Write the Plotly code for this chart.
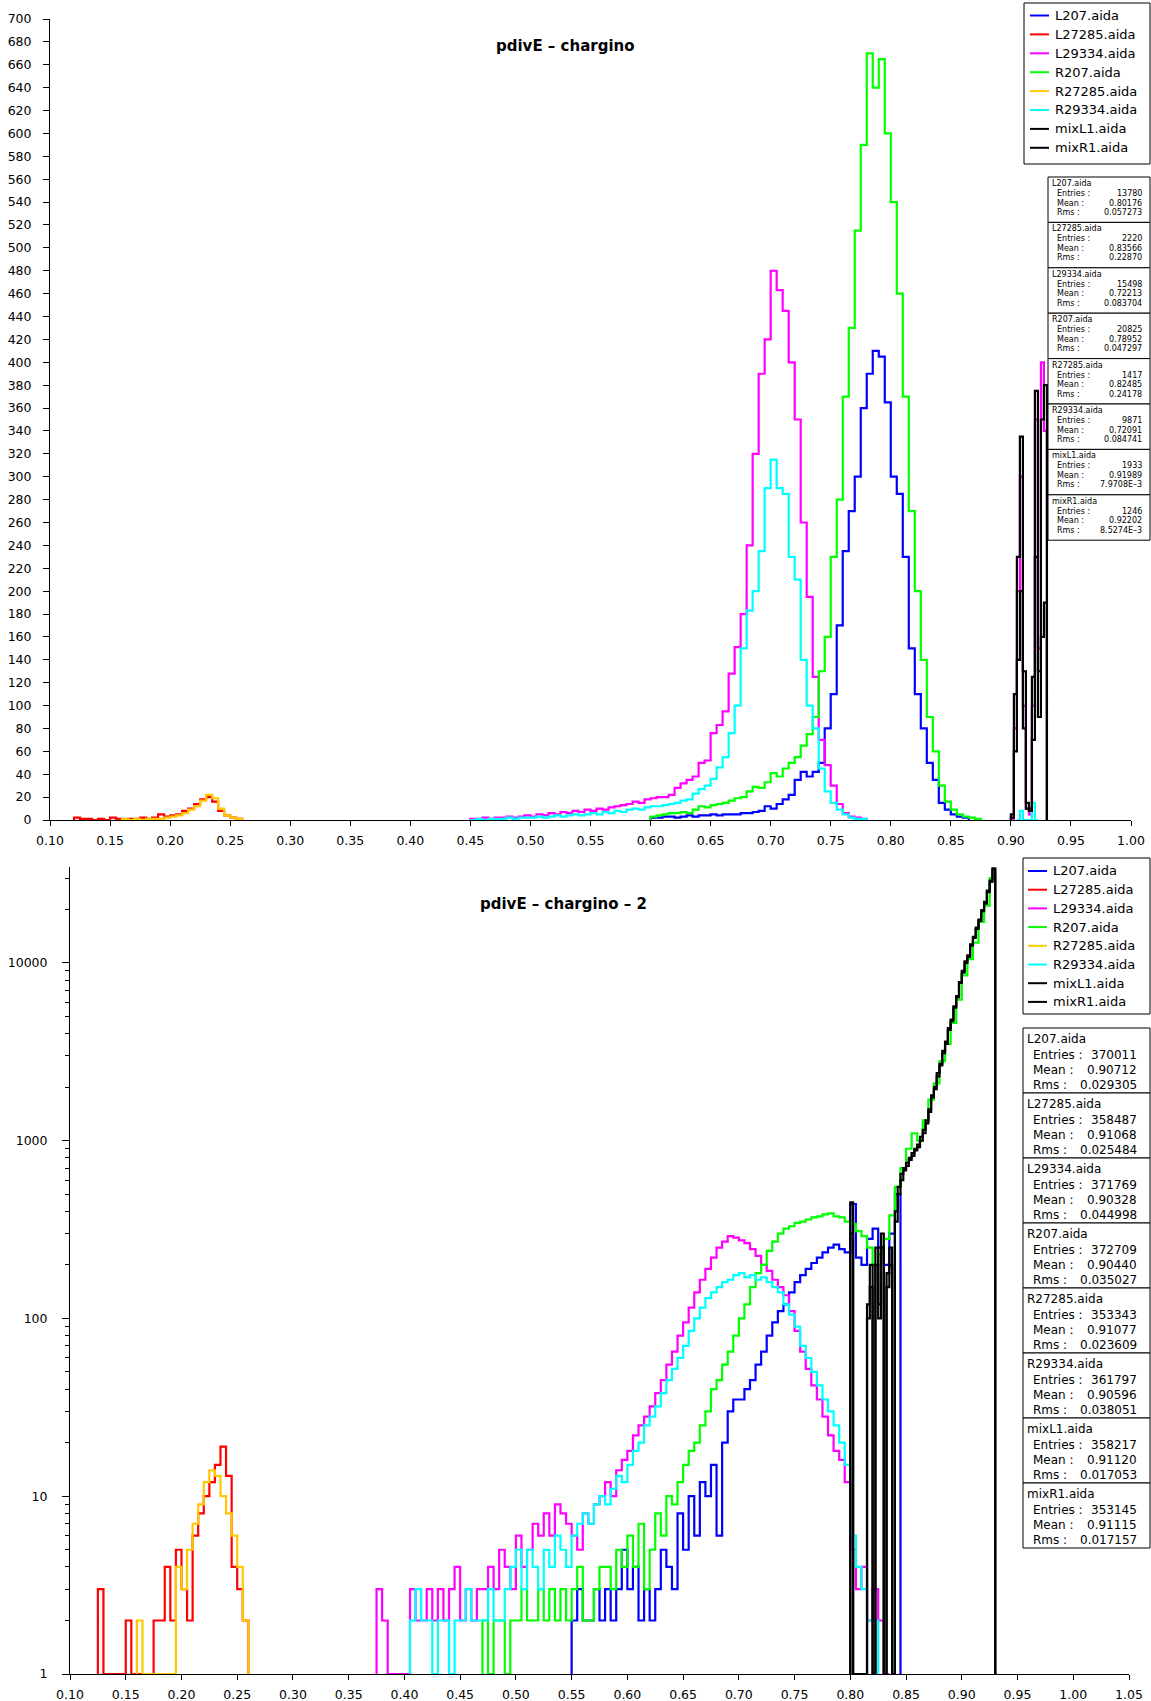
import plotly.graph_objects as go

W, H = 1151, 1701

# ---------------- series definitions ----------------
series_names = ["L207.aida", "L27285.aida", "L29334.aida", "R207.aida",
                "R27285.aida", "R29334.aida", "mixL1.aida", "mixR1.aida"]
series_colors = ["#0000ff", "#ff0000", "#ff00ff", "#00ff00",
                 "#ffc800", "#00ffff", "#000000", "#000000"]

# ---------------- top panel (linear) : stats ----------------
top_entries = ["13780", "2220", "15498", "20825", "1417", "9871", "1933", "1246"]
top_means = ["0.80176", "0.83566", "0.72213", "0.78952", "0.82485", "0.72091", "0.91989", "0.92202"]
top_rms = ["0.057273", "0.22870", "0.083704", "0.047297", "0.24178", "0.084741", "7.9708E\u20133", "8.5274E\u20133"]

# ---------------- bottom panel (log) : stats ----------------
bot_entries = ["370011", "358487", "371769", "372709", "353343", "361797", "358217", "353145"]
bot_means = ["0.90712", "0.91068", "0.90328", "0.90440", "0.91077", "0.90596", "0.91120", "0.91115"]
bot_rms = ["0.029305", "0.025484", "0.044998", "0.035027", "0.023609", "0.038051", "0.017053", "0.017157"]

# ---------------- top panel histogram contents ----------------
BIN = 0.005
FINE = 0.0025

top_L207_start = 0.600
top_L207 = [2, 2, 3, 3, 2, 3, 4, 3, 4, 4, 5, 4, 5, 5, 5, 6, 6, 7, 8, 12, 10, 14, 18, 22, 35, 42, 38, 42, 50, 80,
            110, 170, 235, 270, 300, 360, 390, 410, 405, 365, 300, 285, 230, 150, 110, 80, 50, 35, 15, 9, 5, 3, 2]

top_L27285_start = 0.120
top_L27285 = [2, 1, 1, 0, 1, 0, 2, 1, 0, 1, 1, 2, 1, 2, 5, 3, 4, 5, 8, 10, 14, 18, 20, 16, 8, 4, 2, 1]

top_L29334_start = 0.450
top_L29334 = [1, 1, 2, 1, 2, 2, 3, 2, 3, 4, 3, 5, 4, 6, 5, 7, 6, 8, 7, 9, 8, 10, 9, 11, 12, 13, 14, 16, 15, 18,
              19, 20, 20, 22, 28, 32, 35, 38, 50, 52, 76, 83, 95, 128, 151, 180, 240, 320, 390, 420,
              480, 463, 445, 400, 350, 260, 195, 125, 70, 48, 30, 14, 6, 3, 2, 1]
top_L29334_hi_start = 0.900
top_L29334_hi = [0, 80, 200, 300, 100, 10, 5, 100, 350, 150, 400, 340]

top_R207_start = 0.600
top_R207 = [3, 4, 5, 6, 6, 7, 6, 9, 12, 11, 13, 14, 15, 17, 19, 20, 25, 29, 28, 33, 41, 38, 45, 50, 55, 65, 75, 90,
            130, 160, 230, 280, 370, 430, 515, 590, 670, 640, 665, 600, 540, 460, 370, 270, 200, 140, 90, 60,
            30, 16, 9, 5, 3, 2, 1]

top_R27285_start = 0.160
top_R27285 = [1, 0, 1, 0, 1, 1, 1, 2, 3, 4, 6, 9, 12, 17, 22, 19, 10, 4, 2, 1]

top_R29334_start = 0.450
top_R29334 = [0, 1, 0, 1, 1, 1, 2, 1, 2, 2, 2, 3, 2, 3, 4, 3, 4, 5, 4, 5, 6, 5, 7, 6, 8, 7, 9, 10, 9, 11,
              12, 12, 13, 14, 15, 17, 18, 23, 27, 30, 36, 46, 55, 76, 100, 150, 183, 200, 235, 290,
              315, 290, 285, 230, 210, 140, 100, 80, 45, 25, 15, 9, 5, 2, 1, 1]
top_R29334_hi_start = 0.905
top_R29334_hi = [0, 8, 0, 0, 0, 15, 0]

top_mixL1_start = 0.900
top_mixL1 = [5, 110, 230, 335, 130, 15, 10, 125, 375, 130, 350, 380]
top_mixR1_start = 0.900
top_mixR1 = [2, 60, 140, 200, 80, 10, 8, 70, 230, 90, 160, 190]

# ---------------- bottom panel histogram contents ----------------
bot_L207_start = 0.550
bot_L207 = [2, 3, 2, 2, 3, 2, 3, 2, 3, 5, 3, 4, 2, 3, 2, 3, 5, 4, 3, 8, 5, 10, 6, 12, 10, 15, 6, 20, 30, 35,
            35, 40, 45, 55, 65, 80, 95, 110, 120, 140, 160, 175, 190, 205, 220, 235, 250, 260, 245, 235,
            440, 220, 200, 280, 320, 250, 200, 300, 500]

bot_L27285_start = 0.125
bot_L27285 = [3, 0, 0, 0, 0, 2, 0, 0, 0, 0, 2, 2, 4, 2, 5, 3, 2, 6, 8, 10, 12, 15, 19, 13, 4, 3, 2]

bot_L29334_start = 0.375
bot_L29334 = [3, 2, 0, 0, 0, 0, 3, 2, 2, 3, 2, 3, 2, 3, 4, 2, 3, 2, 3, 3, 4, 3, 5, 4, 3, 6, 4, 5, 7, 6,
              8, 6, 9, 8, 7,
              6, 5, 8, 7, 9, 10, 12, 10, 14, 16, 18, 22, 25, 28, 32, 38, 45, 55, 65, 80, 95, 115, 140, 165, 190,
              220, 250, 270, 290, 285, 275, 265, 245, 225, 200, 185, 165, 150, 135, 110, 85, 65, 52, 42, 35,
              28, 22, 18, 16, 12, 5, 3, 4, 2, 3, 2, 1]

bot_R207_start = 0.470
bot_R207 = [2, 1, 2, 2, 1, 2, 2, 3, 2, 2, 3, 2, 3, 2, 3, 2, 3, 4, 2, 2, 3, 4, 4, 3, 5, 4, 6, 4, 7, 3,
            5, 8, 6, 10, 9, 12, 15, 18, 20, 25, 30, 40, 45, 55, 65, 80, 100, 120, 150, 180,
            200, 240, 270, 300, 320, 330, 345, 350, 360, 370, 375, 385, 390, 375, 370, 350, 340, 310, 290, 250,
            200, 230, 280, 380, 550, 700, 900, 1100, 1000, 1300, 1700, 2100, 2800, 3500, 4600, 6200, 8500,
            10500, 13000, 17000, 21000, 30000]

bot_R27285_start = 0.160
bot_R27285 = [2, 0, 0, 0, 0, 0, 0, 4, 3, 5, 7, 9, 12, 14, 13, 10, 8, 6, 4, 2]

bot_R29334_start = 0.405
bot_R29334 = [2, 3, 2, 2, 1, 2, 2, 1, 2, 2, 3, 2, 2, 2, 3, 2, 2, 3, 4, 5, 3, 5, 4, 3, 5, 4, 6, 5, 4, 6,
              7, 8, 7, 9, 10, 9, 11, 13, 12, 15, 18, 20, 25, 28, 32, 38, 45, 52, 60, 70,
              85, 100, 115, 130, 140, 150, 160, 165, 175, 180, 170, 175, 165, 170, 160, 150, 140, 120, 105, 90,
              70, 60, 50, 42, 35, 30, 25, 20, 15, 6, 4, 3, 2, 2]

bot_mixL1_start = 0.800
bot_mixL1 = [450, 0, 0, 0, 0, 0, 120, 200, 0, 250, 100, 300, 0, 150, 250, 0, 400, 550, 650, 700,
             750, 800, 850, 900, 950, 1000, 1100, 1300, 1500, 1750, 2000, 2300, 2700, 3100, 3600, 4200,
             4800, 5600, 6500, 7700, 9000, 10000, 11000, 12500, 14000, 15500, 17500, 19500, 22000, 25000,
             29000, 34000]
bot_mixR1_start = 0.800
bot_mixR1 = [300, 0, 0, 0, 0, 0, 100, 150, 0, 200, 120, 250, 0, 180, 200, 0, 350, 500, 600, 680,
             720, 780, 820, 880, 920, 1050, 1150, 1250, 1450, 1800, 1950, 2400, 2650, 3200, 3500, 4300,
             4700, 5700, 6400, 7800, 8800, 10200, 10800, 12700, 13800, 15800, 17200, 19800, 21500, 25500,
             28500, 33500]

top_segments = [
    [(top_L207_start, BIN, top_L207)],
    [(top_L27285_start, BIN, top_L27285)],
    [(top_L29334_start, BIN, top_L29334), (top_L29334_hi_start, FINE, top_L29334_hi)],
    [(top_R207_start, BIN, top_R207)],
    [(top_R27285_start, BIN, top_R27285)],
    [(top_R29334_start, BIN, top_R29334), (top_R29334_hi_start, FINE, top_R29334_hi)],
    [(top_mixL1_start, FINE, top_mixL1)],
    [(top_mixR1_start, FINE, top_mixR1)],
]
bot_segments = [
    [(bot_L207_start, BIN, bot_L207)],
    [(bot_L27285_start, BIN, bot_L27285)],
    [(bot_L29334_start, BIN, bot_L29334)],
    [(bot_R207_start, BIN, bot_R207)],
    [(bot_R27285_start, BIN, bot_R27285)],
    [(bot_R29334_start, BIN, bot_R29334)],
    [(bot_mixL1_start, FINE, bot_mixL1)],
    [(bot_mixR1_start, FINE, bot_mixR1)],
]

# ---------------- axis ticks ----------------
top_x_ticks = [0.10, 0.15, 0.20, 0.25, 0.30, 0.35, 0.40, 0.45, 0.50, 0.55, 0.60, 0.65, 0.70, 0.75,
               0.80, 0.85, 0.90, 0.95, 1.00]
top_y_ticks = [0, 20, 40, 60, 80, 100, 120, 140, 160, 180, 200, 220, 240, 260, 280, 300, 320, 340,
               360, 380, 400, 420, 440, 460, 480, 500, 520, 540, 560, 580, 600, 620, 640, 660, 680, 700]
bot_x_ticks = [0.10, 0.15, 0.20, 0.25, 0.30, 0.35, 0.40, 0.45, 0.50, 0.55, 0.60, 0.65, 0.70, 0.75,
               0.80, 0.85, 0.90, 0.95, 1.00, 1.05]
bot_y_ticks = [1, 10, 100, 1000, 10000]
bot_y_labels = ["1", "10", "100", "1000", "10000"]
bot_y_minor = [2, 3, 4, 5, 6, 7, 8, 9, 20, 30, 40, 50, 60, 70, 80, 90, 200, 300, 400, 500, 600, 700, 800, 900,
               2000, 3000, 4000, 5000, 6000, 7000, 8000, 9000, 20000, 30000]

top_title = "pdivE \u2013 chargino"
bot_title = "pdivE \u2013 chargino \u2013 2"


def steps(segments, floor):
    xs, ys = [], []
    for start, width, counts in segments:
        n = len(counts)
        if xs:
            xs.append(None)
            ys.append(None)
        xs += [start] + [start + i * width for i in range(n)] + [start + n * width]
        ys += [floor] + [c if c > 0 else floor for c in counts] + [floor]
    return xs, ys


LW = 2.2
fig = go.Figure()
for name, color, segs in zip(series_names, series_colors, top_segments):
    xs, ys = steps(segs, 0)
    fig.add_trace(go.Scatter(x=xs, y=ys, mode="lines", line=dict(color=color, width=LW, shape="hv"),
                             name=name, xaxis="x", yaxis="y", showlegend=False, hoverinfo="skip"))
for name, color, segs in zip(series_names, series_colors, bot_segments):
    xs, ys = steps(segs, 1)
    fig.add_trace(go.Scatter(x=xs, y=ys, mode="lines", line=dict(color=color, width=LW, shape="hv"),
                             name=name, xaxis="x2", yaxis="y2", showlegend=False, hoverinfo="skip"))


def PX(x):
    return x / W


def PY(y):
    return 1 - y / H


TICKFONT = dict(family="DejaVu Sans", size=12.5, color="black")
common = dict(showgrid=False, zeroline=False, tickcolor="black", tickwidth=1, tickfont=TICKFONT,
              automargin=False)

top_dom_x = [PX(50), PX(1131)]
top_dom_y = [PY(820), PY(19)]
bot_dom_x = [PX(70), PX(1129)]
bot_dom_y = [PY(1674), PY(867)]
bot_log_range = [0, 4.539]

fig.update_layout(
    template="none",
    width=W, height=H, margin=dict(l=0, r=0, t=0, b=0, pad=0, autoexpand=False),
    paper_bgcolor="white", plot_bgcolor="white", showlegend=False, hovermode=False,
    font=dict(family="DejaVu Sans", color="black"),
    xaxis=dict(domain=top_dom_x, anchor="y", range=[0.1, 1.0], tickmode="array", tickvals=top_x_ticks,
               ticktext=["%.2f" % v for v in top_x_ticks], ticks="outside", ticklen=5,
               showline=True, linecolor="black", linewidth=1, ticklabelstandoff=4, **common),
    yaxis=dict(domain=top_dom_y, anchor="x", range=[0, 700], tickmode="array", tickvals=top_y_ticks,
               ticktext=[str(v) for v in top_y_ticks], ticks="outside", ticklen=6,
               showline=True, linecolor="black", linewidth=1, ticklabelstandoff=9, **common),
    xaxis3=dict(overlaying="x", anchor="y", range=[0.1, 1.0], tickmode="array", tickvals=top_x_ticks,
                ticks="inside", ticklen=5, showticklabels=False, showline=False, **common),
    yaxis3=dict(overlaying="y", anchor="x", side="left", range=[0, 700], tickmode="array",
                tickvals=top_y_ticks, ticks="inside", ticklen=6, showticklabels=False, showline=False,
                **common),
    xaxis2=dict(domain=bot_dom_x, anchor="y2", range=[0.1, 1.05], tickmode="array", tickvals=bot_x_ticks,
                ticktext=["%.2f" % v for v in bot_x_ticks], ticks="outside", ticklen=5,
                showline=True, linecolor="black", linewidth=1, ticklabelstandoff=4, **common),
    yaxis2=dict(domain=bot_dom_y, anchor="x2", type="log", range=bot_log_range, tickmode="array",
                tickvals=bot_y_ticks, ticktext=bot_y_labels, ticks="outside", ticklen=7,
                minor=dict(tickvals=bot_y_minor, ticks="outside", ticklen=4, tickcolor="black", showgrid=False),
                showline=True, linecolor="black", linewidth=1, ticklabelstandoff=12, **common),
    xaxis4=dict(overlaying="x2", anchor="y2", range=[0.1, 1.05], tickmode="array", tickvals=bot_x_ticks,
                ticks="inside", ticklen=5, showticklabels=False, showline=False, **common),
    yaxis4=dict(overlaying="y2", anchor="x2", side="left", type="log", range=bot_log_range, tickmode="array",
                tickvals=bot_y_ticks, ticks="inside", ticklen=7, showticklabels=False, showline=False,
                minor=dict(tickvals=bot_y_minor, ticks="inside", ticklen=4, tickcolor="black", showgrid=False),
                **common),
)

shapes = []
annotations = []

# titles
annotations.append(dict(x=PX(565), y=PY(46), xref="paper", yref="paper", text=top_title, showarrow=False,
                        xanchor="center", yanchor="middle",
                        font=dict(family="DejaVu Sans", size=15, color="black", weight="bold")))
annotations.append(dict(x=PX(563), y=PY(904), xref="paper", yref="paper", text=bot_title, showarrow=False,
                        xanchor="center", yanchor="middle",
                        font=dict(family="DejaVu Sans", size=15, color="black", weight="bold")))


def add_legend(box, row0, dy, sample_x0, sample_x1, text_x, fsize):
    x0, y0, x1, y1 = box
    shapes.append(dict(type="rect", xref="paper", yref="paper", x0=PX(x0), y0=PY(y1), x1=PX(x1), y1=PY(y0),
                       line=dict(color="black", width=1), fillcolor="white", layer="above"))
    for k, (name, color) in enumerate(zip(series_names, series_colors)):
        yy = row0 + k * dy
        shapes.append(dict(type="line", xref="paper", yref="paper", x0=PX(sample_x0), x1=PX(sample_x1),
                           y0=PY(yy), y1=PY(yy), line=dict(color=color, width=2), layer="above"))
        annotations.append(dict(x=PX(text_x), y=PY(yy), xref="paper", yref="paper", text=name,
                                showarrow=False, xanchor="left", yanchor="middle",
                                font=dict(family="DejaVu Sans", size=fsize, color="black")))


def add_stats(x0, x1, top, stride, offs, title_x, label_x, value_x, fsize, entries, means, rms):
    for k, name in enumerate(series_names):
        t = top + k * stride
        shapes.append(dict(type="rect", xref="paper", yref="paper", x0=PX(x0), x1=PX(x1),
                           y0=PY(t + stride), y1=PY(t), line=dict(color="black", width=1),
                           fillcolor="white", layer="above"))
        f = dict(family="DejaVu Sans", size=fsize, color="black")
        annotations.append(dict(x=PX(title_x), y=PY(t + offs[0]), xref="paper", yref="paper", text=name,
                                showarrow=False, xanchor="left", yanchor="middle", font=f))
        for lab, val, off in (("Entries :", entries[k], offs[1]), ("Mean :", means[k], offs[2]),
                              ("Rms :", rms[k], offs[3])):
            annotations.append(dict(x=PX(label_x), y=PY(t + off), xref="paper", yref="paper", text=lab,
                                    showarrow=False, xanchor="left", yanchor="middle", font=f))
            annotations.append(dict(x=PX(value_x), y=PY(t + off), xref="paper", yref="paper", text=val,
                                    showarrow=False, xanchor="right", yanchor="middle", font=f))


add_legend((1024, 3, 1150, 164), 15.5, 18.9, 1030, 1049, 1053, 13)
add_legend((1023, 858, 1150, 1014), 871, 18.7, 1028, 1047, 1051, 13)
add_stats(1048, 1150, 177, 45.4, (6.5, 16.5, 26, 35.5), 1050, 1055, 1144, 8,
          top_entries, top_means, top_rms)
add_stats(1023, 1150, 1028, 65, (11, 27, 42, 57), 1025, 1031, 1139, 12,
          bot_entries, bot_means, bot_rms)

fig.update_layout(shapes=shapes, annotations=annotations)
fig.write_html("out.html", config={"displayModeBar": False, "staticPlot": True},
               post_script="document.body.style.margin='0';document.body.style.overflow='hidden';")
